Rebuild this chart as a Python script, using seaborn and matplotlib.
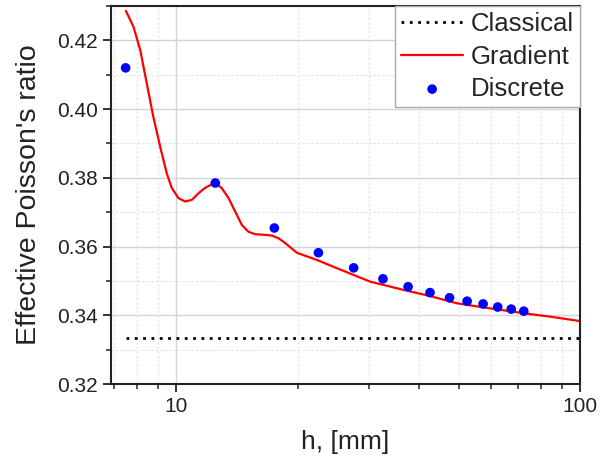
import numpy as np
import pandas as pd
import matplotlib
matplotlib.use("Agg")
import matplotlib.pyplot as plt
import seaborn as sns
from matplotlib.ticker import FixedLocator, NullFormatter, MultipleLocator

# values
classical_h = [7.5, 100]
classical_v = [0.3333, 0.3333]

grad_h = [7.51, 7.84, 8.15, 8.46, 8.78, 9.13, 9.48, 9.76, 10.13, 10.53, 10.94, 11.36,
          11.80, 12.26, 12.61, 12.97, 13.48, 14.00, 14.54, 15.10, 15.69, 16.61, 17.26,
          17.92, 18.44, 19.90, 22.30, 25.0, 30.2, 36.5, 42.5, 49.5, 57.6, 72.4, 84.3, 100]
grad_v = [0.4286, 0.4240, 0.4172, 0.4075, 0.3978, 0.3891, 0.3813, 0.3770, 0.3741, 0.3731,
          0.3736, 0.3755, 0.3771, 0.3781, 0.3782, 0.3770, 0.3741, 0.3702, 0.3663, 0.3643,
          0.3636, 0.3634, 0.3632, 0.3624, 0.3614, 0.3582, 0.3561, 0.3537, 0.3498, 0.3474,
          0.3456, 0.3435, 0.3423, 0.3406, 0.3396, 0.3383]

disc_h = [7.5, 12.5, 17.5, 22.5, 27.5, 32.5, 37.5, 42.5, 47.5, 52.5, 57.5, 62.5, 67.5, 72.5]
disc_v = [0.4120, 0.3785, 0.3654, 0.3582, 0.3538, 0.3506, 0.3483, 0.3466, 0.3451,
          0.3441, 0.3433, 0.3424, 0.3418, 0.3412]

sns.set_theme(style="ticks")
plt.rcParams['font.family'] = ['Liberation Sans', 'DejaVu Sans']

fig, ax = plt.subplots(figsize=(6, 4.61), dpi=100)
fig.subplots_adjust(left=0.185, right=0.967, top=0.987, bottom=0.167)

sns.lineplot(x=classical_h, y=classical_v, ax=ax, color='black', lw=2,
             linestyle=(0, (1, 2)), label='Classical')
sns.lineplot(x=grad_h, y=grad_v, ax=ax, color='#ff0000', lw=1.6, label='Gradient',
             sort=False)
sns.scatterplot(x=disc_h, y=disc_v, ax=ax, color='#0000ff', s=48, edgecolor='none',
                label='Discrete', zorder=3)

ax.set_xscale('log')
ax.set_xlim(6.9, 100)
ax.set_ylim(0.32, 0.43)
ax.xaxis.set_major_locator(FixedLocator([10, 100]))
ax.set_xticklabels(['10', '100'])
ax.xaxis.set_minor_locator(FixedLocator([7, 8, 9, 20, 30, 40, 50, 60, 70, 80, 90]))
ax.xaxis.set_minor_formatter(NullFormatter())
ax.set_yticks(np.arange(0.32, 0.4201, 0.02))
ax.yaxis.set_minor_locator(MultipleLocator(0.01))
ax.set_yticklabels([f'{v:.2f}' for v in np.arange(0.32, 0.4201, 0.02)])

ax.grid(which='major', color='#d4d4d4', lw=1.0, ls='-')
ax.grid(which='minor', color='#e2e2e2', lw=0.8, ls=(0, (2, 2)))
ax.set_axisbelow(True)

for sp in ax.spines.values():
    sp.set_color('#222222')
    sp.set_linewidth(1.5)
ax.tick_params(which='major', direction='out', length=6, width=1.3, colors='#222222',
               labelsize=15, labelcolor='#222222')
ax.tick_params(which='minor', direction='out', length=3.5, width=1.1, colors='#222222')

ax.set_xlabel('h, [mm]', fontsize=19, color='#222222', labelpad=10)
ax.set_ylabel("Effective Poisson's ratio", fontsize=20.5, color='#222222', labelpad=11)

leg = ax.legend(loc='upper right', fontsize=18.5, frameon=True, fancybox=False,
                borderaxespad=0, borderpad=0.25, handlelength=2.4, handletextpad=0.3,
                labelspacing=0.32, edgecolor='#aaaaaa', framealpha=1)
leg.get_frame().set_linewidth(1.0)

fig.savefig('out.png', dpi=100)
